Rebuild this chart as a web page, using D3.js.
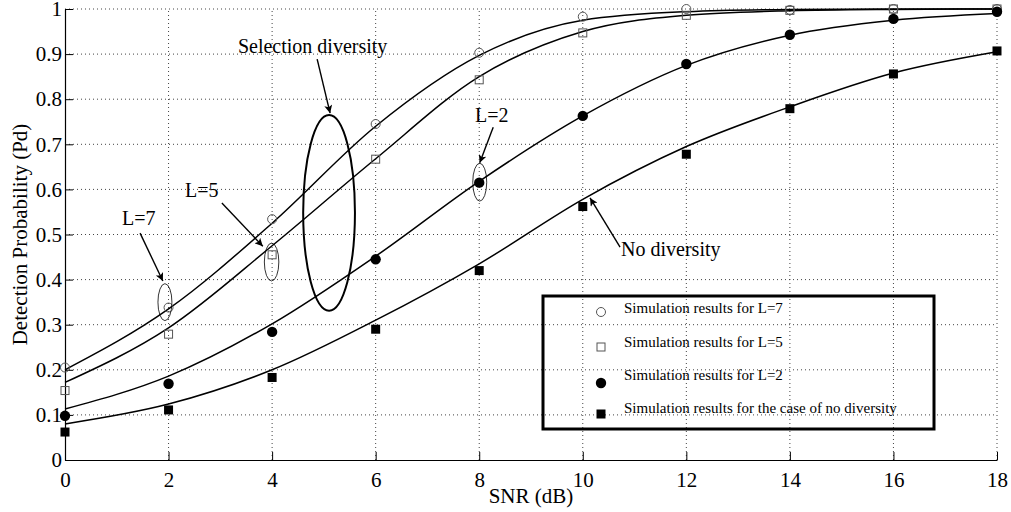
<!DOCTYPE html>
<html><head><meta charset="utf-8">
<script src="https://cdn.jsdelivr.net/npm/d3@7"></script>
<style>
html,body{margin:0;padding:0;background:#fff;}
svg{display:block;}
text{font-family:"Liberation Serif","Times New Roman",serif;fill:#000;}
</style></head>
<body>
<svg id="chart" width="1011" height="512"></svg>
<script>
// ---- data ----
const snr = [0, 2, 4, 6, 8, 10, 12, 14, 16, 18];
const xTicks = [0, 2, 4, 6, 8, 10, 12, 14, 16, 18];
const yTicks = [0, 0.1, 0.2, 0.3, 0.4, 0.5, 0.6, 0.7, 0.8, 0.9, 1];
const yTickLabels = ["0", "0.1", "0.2", "0.3", "0.4", "0.5", "0.6", "0.7", "0.8", "0.9", "1"];

// theoretical curves
const theoryL7 = [0.200, 0.335, 0.525, 0.740, 0.897, 0.975, 0.994, 0.999, 1.0, 1.0];
const theoryL5 = [0.172, 0.293, 0.475, 0.668, 0.850, 0.950, 0.986, 0.996, 0.999, 1.0];
const theoryL2 = [0.113, 0.186, 0.302, 0.452, 0.618, 0.763, 0.875, 0.942, 0.975, 0.990];
const theoryNo = [0.080, 0.124, 0.200, 0.310, 0.435, 0.578, 0.695, 0.783, 0.858, 0.905];

// simulation points
const simL7 = [0.205, 0.338, 0.534, 0.745, 0.903, 0.983, 1.0, 0.998, 1.0, 1.0];
const simL5 = [0.154, 0.279, 0.455, 0.667, 0.843, 0.947, 0.986, 0.997, 1.0, 1.0];
const simL2 = [0.098, 0.169, 0.284, 0.445, 0.615, 0.763, 0.878, 0.943, 0.978, 0.994];
const simNo = [0.062, 0.111, 0.183, 0.290, 0.420, 0.562, 0.678, 0.779, 0.856, 0.907];

const legendLabels = [
  "Simulation results for L=7",
  "Simulation results for L=5",
  "Simulation results for L=2",
  "Simulation results for the case of no diversity"
];
const xLabel = "SNR (dB)";
const yLabel = "Detection Probability (Pd)";

// annotations (data coordinates)
const annoTexts = [
  {t: "Selection diversity", x: 3.34, y: 0.902},
  {t: "L=7", x: 1.10, y: 0.521},
  {t: "L=5", x: 2.32, y: 0.583},
  {t: "L=2", x: 7.92, y: 0.749},
  {t: "No diversity", x: 10.74, y: 0.452}
];
const annoArrows = [
  {x1: 4.87, y1: 0.889, x2: 5.12, y2: 0.769},
  {x1: 1.45, y1: 0.503, x2: 1.89, y2: 0.397},
  {x1: 3.03, y1: 0.570, x2: 3.82, y2: 0.474},
  {x1: 8.27, y1: 0.738, x2: 8.01, y2: 0.659},
  {x1: 10.72, y1: 0.472, x2: 10.14, y2: 0.581}
];
const annoEllipses = [
  {cx: 5.10, cy: 0.548, rx: 0.50, ry: 0.217, w: 2},
  {cx: 1.93, cy: 0.350, rx: 0.135, ry: 0.041, w: 0.8},
  {cx: 3.99, cy: 0.439, rx: 0.14, ry: 0.042, w: 0.8},
  {cx: 8.01, cy: 0.616, rx: 0.135, ry: 0.042, w: 0.8}
];

// ---- layout ----
const W = 1011, H = 512;
const margin = {left: 65, right: 14, top: 9, bottom: 52};
const svg = d3.select("#chart");
const x = d3.scaleLinear().domain([0, 18]).range([margin.left, W - margin.right]);
const y = d3.scaleLinear().domain([0, 1]).range([H - margin.bottom, margin.top]);

// grid
const grid = svg.append("g");
grid.selectAll("line.v").data(xTicks.slice(1)).join("line")
  .attr("x1", d => x(d)).attr("x2", d => x(d))
  .attr("y1", y(0)).attr("y2", y(1))
  .attr("stroke", "#444").attr("stroke-width", 1).attr("stroke-dasharray", "1,3");
grid.selectAll("line.h").data(yTicks.slice(1)).join("line")
  .attr("x1", x(0)).attr("x2", x(18))
  .attr("y1", d => y(d)).attr("y2", d => y(d))
  .attr("stroke", "#444").attr("stroke-width", 1).attr("stroke-dasharray", "1,3");

// axes
const xAxis = d3.axisBottom(x).tickValues(xTicks).tickSizeInner(-8).tickSizeOuter(0).tickPadding(12)
  .tickFormat(d3.format("d"));
const gx = svg.append("g").attr("transform", `translate(0,${y(0)})`).call(xAxis);
gx.select(".domain").attr("stroke", "#000").attr("stroke-width", 1.2);
gx.selectAll(".tick line").attr("stroke", "#000");
gx.selectAll("text").style("font-size", "21px").style("font-family", "Liberation Serif");

const yAxis = d3.axisLeft(y).tickValues(yTicks).tickSizeInner(-8).tickSizeOuter(0).tickPadding(3)
  .tickFormat((d, i) => yTickLabels[i]);
const gy = svg.append("g").attr("transform", `translate(${x(0)},0)`).call(yAxis);
gy.select(".domain").attr("stroke", "#000").attr("stroke-width", 1.2);
gy.selectAll(".tick line").attr("stroke", "#000");
gy.selectAll("text").style("font-size", "21px").style("font-family", "Liberation Serif");

// axis labels
svg.append("text").attr("x", x(9)).attr("y", 503).attr("text-anchor", "middle")
  .style("font-size", "21px").text(xLabel);
svg.append("text").attr("transform", `translate(27,${y(0.5)}) rotate(-90)`)
  .attr("text-anchor", "middle").style("font-size", "21px").text(yLabel);

// curves
const line = d3.line().x((d, i) => x(snr[i])).y(d => y(d)).curve(d3.curveMonotoneX);
[theoryL7, theoryL5, theoryL2, theoryNo].forEach(s => {
  svg.append("path").attr("d", line(s)).attr("fill", "none")
    .attr("stroke", "#000").attr("stroke-width", 1.5);
});

// markers
function drawMarker(g, kind, cx, cy) {
  if (kind === "oc") g.append("circle").attr("cx", cx).attr("cy", cy).attr("r", 4.5)
    .attr("fill", "none").attr("stroke", "#555").attr("stroke-width", 1);
  if (kind === "os") g.append("rect").attr("x", cx - 4).attr("y", cy - 4).attr("width", 8).attr("height", 8)
    .attr("fill", "none").attr("stroke", "#555").attr("stroke-width", 1);
  if (kind === "fc") g.append("circle").attr("cx", cx).attr("cy", cy).attr("r", 5.2).attr("fill", "#000");
  if (kind === "fs") g.append("rect").attr("x", cx - 4.5).attr("y", cy - 4.5).attr("width", 9).attr("height", 9).attr("fill", "#000");
}
const mg = svg.append("g");
[[simL7, "oc"], [simL5, "os"], [simL2, "fc"], [simNo, "fs"]].forEach(([s, k]) => {
  s.forEach((v, i) => drawMarker(mg, k, x(snr[i]), y(v)));
});

// annotations
const defs = svg.append("defs");
defs.append("marker").attr("id", "ah").attr("viewBox", "0 0 10 10").attr("refX", 10).attr("refY", 5)
  .attr("markerWidth", 11).attr("markerHeight", 8).attr("markerUnits", "userSpaceOnUse").attr("orient", "auto")
  .append("path").attr("d", "M0,0 L10,5 L0,10 L2.5,5 Z").attr("fill", "#000");

annoEllipses.forEach(e => {
  svg.append("ellipse").attr("cx", x(e.cx)).attr("cy", y(e.cy))
    .attr("rx", x(e.cx + e.rx) - x(e.cx)).attr("ry", y(e.cy) - y(e.cy + e.ry))
    .attr("fill", "none").attr("stroke", "#000").attr("stroke-width", e.w);
});
annoArrows.forEach(a => {
  svg.append("line").attr("x1", x(a.x1)).attr("y1", y(a.y1)).attr("x2", x(a.x2)).attr("y2", y(a.y2))
    .attr("stroke", "#000").attr("stroke-width", 1.4).attr("marker-end", "url(#ah)");
});
annoTexts.forEach(a => {
  svg.append("text").attr("x", x(a.x)).attr("y", y(a.y)).style("font-size", "20px").text(a.t);
});

// legend (transparent box: grid shows through)
const lg = svg.append("g");
const lx0 = 543, ly0 = 296, lw = 391, lh = 133;
lg.append("rect").attr("x", lx0).attr("y", ly0).attr("width", lw).attr("height", lh)
  .attr("fill", "none").attr("stroke", "#000").attr("stroke-width", 3);
const legendKinds = ["oc", "os", "fc", "fs"];
const rowSym = [16, 51, 87, 118];
const rowTxt = [17, 51, 84, 117];
legendLabels.forEach((t, i) => {
  drawMarker(lg, legendKinds[i], lx0 + 58, ly0 + rowSym[i]);
  lg.append("text").attr("x", lx0 + 81).attr("y", ly0 + rowTxt[i])
    .style("font-size", "15px").text(t);
});
</script>
</body></html>
